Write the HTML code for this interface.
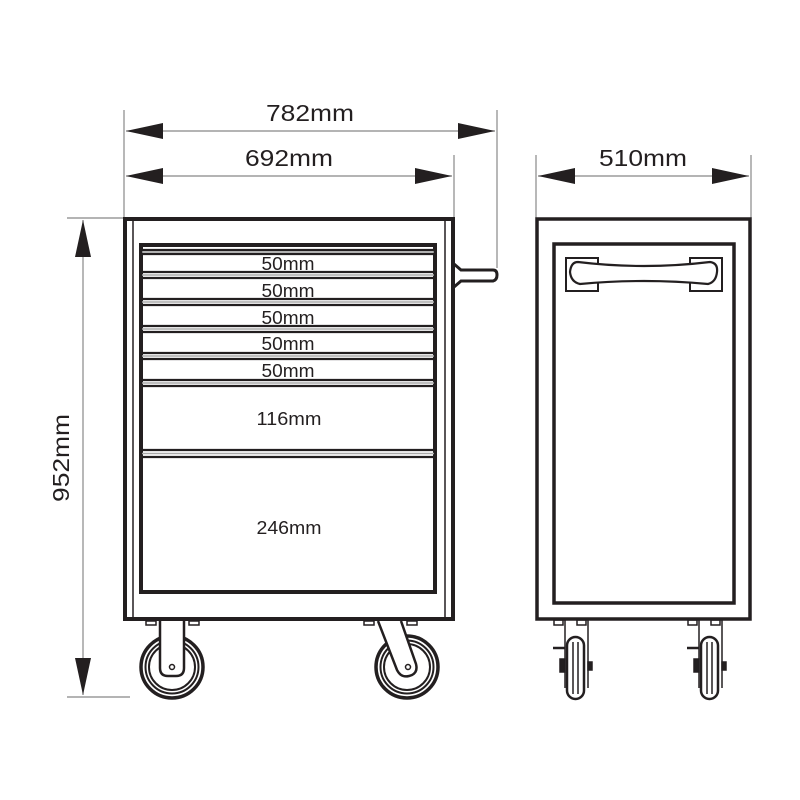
<!DOCTYPE html>
<html><head><meta charset="utf-8"><style>html,body{margin:0;padding:0;background:#fff}svg{display:block}</style></head>
<body>
<svg width="800" height="800" viewBox="0 0 800 800" xmlns="http://www.w3.org/2000/svg" font-family="Liberation Sans, sans-serif">
<g stroke="#888" stroke-width="1.2" fill="none">
<line x1="124" y1="110" x2="124" y2="218"/>
<line x1="454" y1="155" x2="454" y2="218"/>
<line x1="497" y1="110" x2="497" y2="268"/>
<line x1="536" y1="155" x2="536" y2="218"/>
<line x1="751" y1="155" x2="751" y2="218"/>
<line x1="67" y1="218" x2="124" y2="218"/>
<line x1="67" y1="697" x2="130" y2="697"/>
<line x1="126" y1="131" x2="495" y2="131"/>
<line x1="126" y1="176" x2="452" y2="176"/>
<line x1="538" y1="176" x2="749" y2="176"/>
<line x1="83" y1="220" x2="83" y2="695"/>
</g>
<g fill="#231f20">
<path d="M126,131 L163,123 L163,139 Z"/>
<path d="M495,131 L458,123 L458,139 Z"/>
<path d="M126,176 L163,168 L163,184 Z"/>
<path d="M452,176 L415,168 L415,184 Z"/>
<path d="M538,176 L575,168 L575,184 Z"/>
<path d="M749,176 L712,168 L712,184 Z"/>
<path d="M83,220 L75,257 L91,257 Z"/>
<path d="M83,695 L75,658 L91,658 Z"/>
</g>
<g fill="#231f20" font-size="23" text-anchor="middle">
<text x="310" y="121" textLength="88" lengthAdjust="spacingAndGlyphs">782mm</text>
<text x="289" y="166" textLength="88" lengthAdjust="spacingAndGlyphs">692mm</text>
<text x="643" y="166" textLength="88" lengthAdjust="spacingAndGlyphs">510mm</text>
<text transform="translate(69,458) rotate(-90)" textLength="88" lengthAdjust="spacingAndGlyphs">952mm</text>
</g>
<!-- front cabinet -->
<g fill="none" stroke="#231f20">
<rect x="125" y="219" width="328" height="400" stroke-width="4"/>
<line x1="133" y1="221" x2="133" y2="617" stroke-width="1.5"/>
<line x1="445" y1="221" x2="445" y2="617" stroke-width="1.5"/>
<rect x="141" y="245" width="294" height="347" stroke-width="4"/>
<path d="M454,264 L461,270 L493,270 Q497,270 497,275 Q497,280 493,281 L461,281 L454,287" stroke-width="3"/>
</g>
<g stroke="#231f20">
<g stroke-width="2.2">
<line x1="142" y1="250" x2="434" y2="250"/><line x1="142" y1="254" x2="434" y2="254"/>
<line x1="142" y1="272" x2="434" y2="272"/><line x1="142" y1="278" x2="434" y2="278"/>
<line x1="142" y1="299" x2="434" y2="299"/><line x1="142" y1="305" x2="434" y2="305"/>
<line x1="142" y1="326" x2="434" y2="326"/><line x1="142" y1="332" x2="434" y2="332"/>
<line x1="142" y1="353" x2="434" y2="353"/><line x1="142" y1="359" x2="434" y2="359"/>
<line x1="142" y1="380" x2="434" y2="380"/><line x1="142" y1="386" x2="434" y2="386"/>
<line x1="142" y1="450" x2="434" y2="450"/><line x1="142" y1="457" x2="434" y2="457"/>
</g>
<g stroke="#aaa" stroke-width="1.5">
<line x1="142" y1="252" x2="434" y2="252"/><line x1="142" y1="275" x2="434" y2="275"/>
<line x1="142" y1="302" x2="434" y2="302"/><line x1="142" y1="329" x2="434" y2="329"/>
<line x1="142" y1="356" x2="434" y2="356"/><line x1="142" y1="383" x2="434" y2="383"/>
<line x1="142" y1="453.5" x2="434" y2="453.5"/>
</g>
</g>
<g fill="#231f20" font-size="18" text-anchor="middle">
<text x="288" y="270" textLength="53" lengthAdjust="spacingAndGlyphs">50mm</text>
<text x="288" y="297" textLength="53" lengthAdjust="spacingAndGlyphs">50mm</text>
<text x="288" y="324" textLength="53" lengthAdjust="spacingAndGlyphs">50mm</text>
<text x="288" y="350" textLength="53" lengthAdjust="spacingAndGlyphs">50mm</text>
<text x="288" y="377" textLength="53" lengthAdjust="spacingAndGlyphs">50mm</text>
<text x="289" y="425" textLength="65" lengthAdjust="spacingAndGlyphs">116mm</text>
<text x="289" y="534" textLength="65" lengthAdjust="spacingAndGlyphs">246mm</text>
</g>
<!-- front wheels -->
<g fill="none" stroke="#231f20">
<rect x="146" y="621" width="10" height="4" stroke-width="1.5"/>
<rect x="189" y="621" width="10" height="4" stroke-width="1.5"/>
<rect x="364" y="621" width="10" height="4" stroke-width="1.5"/>
<rect x="407" y="621" width="10" height="4" stroke-width="1.5"/>
<circle cx="172" cy="667" r="31" stroke-width="3.5"/>
<circle cx="172" cy="667" r="26.5" stroke-width="2"/>
<circle cx="172" cy="667" r="23" stroke-width="2"/>
<path d="M160,621 L160,668 Q160,676 168,676 L176,676 Q184,676 184,668 L184,621" fill="#fff" stroke-width="2.5"/>
<circle cx="172" cy="667" r="2.5" stroke-width="1.5"/>
<circle cx="407" cy="667" r="31" stroke-width="3.5"/>
<circle cx="407" cy="667" r="26.5" stroke-width="2"/>
<circle cx="407" cy="667" r="23" stroke-width="2"/>
<path d="M378,621 L397,670 Q401,678 409,676 L412,675 Q418,672 416,664 L401,621" fill="#fff" stroke-width="2.5"/>
<circle cx="408" cy="667" r="2.5" stroke-width="1.5"/>
</g>
<!-- side view -->
<g fill="none" stroke="#231f20">
<rect x="537" y="219" width="213" height="400" stroke-width="3.5"/>
<rect x="554" y="244" width="180" height="359" stroke-width="3.5"/>
<path d="M598,278 L598,291 L566,291 L566,258 L598,258 L598,263" stroke-width="2"/>
<path d="M690,278 L690,291 L722,291 L722,258 L690,258 L690,263" stroke-width="2"/>
<path d="M578,262 Q644,270 710,262 Q718,263 717,272 Q716,282 708,284 Q644,278 580,284 Q571,282 570,272 Q571,262 578,262 Z" stroke-width="2.2" fill="#fff"/>
</g>
<g fill="none" stroke="#231f20" stroke-width="1.5">
<rect x="554" y="620" width="9" height="5"/>
<rect x="577" y="620" width="9" height="5"/>
<line x1="565" y1="620" x2="565" y2="688"/>
<line x1="588" y1="620" x2="588" y2="688"/>
<rect x="567" y="637" width="17" height="62" rx="8.5" stroke-width="2.5" fill="#fff"/>
<line x1="573" y1="642" x2="573" y2="694"/>
<line x1="578" y1="642" x2="578" y2="694"/>
<line x1="553" y1="648" x2="565" y2="648" stroke-width="2.5"/>
<rect x="560" y="659" width="5" height="13" fill="#231f20"/>
<rect x="588" y="662" width="4" height="8" fill="#231f20"/>
</g>
<g fill="none" stroke="#231f20" stroke-width="1.5" transform="translate(134,0)">
<rect x="554" y="620" width="9" height="5"/>
<rect x="577" y="620" width="9" height="5"/>
<line x1="565" y1="620" x2="565" y2="688"/>
<line x1="588" y1="620" x2="588" y2="688"/>
<rect x="567" y="637" width="17" height="62" rx="8.5" stroke-width="2.5" fill="#fff"/>
<line x1="573" y1="642" x2="573" y2="694"/>
<line x1="578" y1="642" x2="578" y2="694"/>
<line x1="553" y1="648" x2="565" y2="648" stroke-width="2.5"/>
<rect x="560" y="659" width="5" height="13" fill="#231f20"/>
<rect x="588" y="662" width="4" height="8" fill="#231f20"/>
</g>
</svg>
</body></html>
